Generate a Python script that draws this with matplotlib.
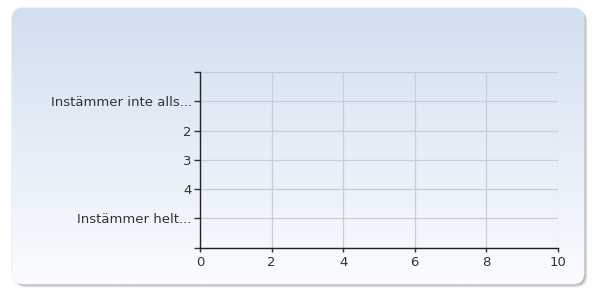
import matplotlib
matplotlib.use("Agg")
import matplotlib.pyplot as plt
import numpy as np
from matplotlib.patches import FancyBboxPatch

# Survey categories (top to bottom) and their values (no answers yet).
categories = ["Instämmer inte alls...", "2", "3", "4", "Instämmer helt..."]
values = [0, 0, 0, 0, 0]
x_ticks = [0, 2, 4, 6, 8, 10]

W, H = 594, 289
fig = plt.figure(figsize=(W / 100, H / 100), dpi=100, facecolor="white")

# Background panel in pixel coordinates.
bg = fig.add_axes([0, 0, 1, 1])
bg.set_xlim(0, W)
bg.set_ylim(H, 0)
bg.axis("off")

# Shadow.
for off, a in [(3.5, 0.12), (2.5, 0.22), (1.5, 0.35)]:
    sh = FancyBboxPatch((12 + off, 8 + off), 572, 276,
                        boxstyle="round,pad=0,rounding_size=11",
                        facecolor="#7a7a7a", edgecolor="none", alpha=a)
    bg.add_patch(sh)

panel = FancyBboxPatch((12, 8), 572, 276, boxstyle="round,pad=0,rounding_size=11",
                       facecolor="none", edgecolor="#e4e8ee", linewidth=0.8)
bg.add_patch(panel)

# Vertical gradient clipped to the panel.
top_c = np.array([0xd2, 0xdf, 0xf0]) / 255
bot_c = np.array([0xfa, 0xfc, 0xff]) / 255
t = np.linspace(0, 1, 256)[:, None]
grad = (top_c * (1 - t) + bot_c * t)[:, None, :]
im = bg.imshow(grad, extent=(12, 584, 284, 8), aspect="auto", zorder=1)
im.set_clip_path(panel)

# Chart axes.
ax = fig.add_axes([200 / W, 1 - 247.5 / H, 358 / W, 175.5 / H])
ax.patch.set_alpha(0)
y = np.arange(1, len(categories) + 1)
ax.barh(y, values, color="#4f81bd", height=0.6)

ax.set_xlim(0, 10)
ax.set_ylim(6, 0)
ax.set_xticks(x_ticks)
ax.set_yticks(range(0, 7))
ax.set_yticklabels([""] + categories + [""])

ax.grid(True, color="#c9ced6", linewidth=0.9)
ax.set_axisbelow(True)
for s in ["top", "right"]:
    ax.spines[s].set_visible(False)
for s in ["left", "bottom"]:
    ax.spines[s].set_color("#222222")
    ax.spines[s].set_linewidth(1.0)

ax.tick_params(axis="y", length=4, width=1, color="#333333", pad=2,
               labelsize=9.5, labelcolor="#333333")
ax.tick_params(axis="x", length=3, width=1, color="#333333", pad=3,
               labelsize=9.5, labelcolor="#333333")

fig.savefig("out.png", dpi=100, facecolor="white")
